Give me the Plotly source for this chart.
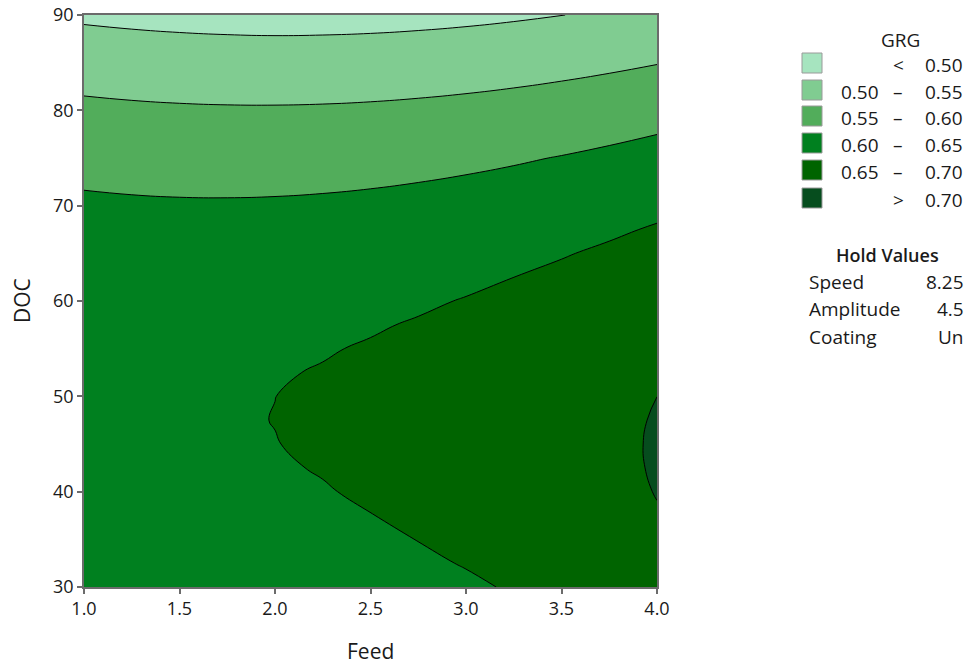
import plotly.graph_objects as go

# Predictor grid
feed = [1.0, 1.25, 1.5, 1.75, 2.0, 2.25, 2.5, 2.75, 3.0, 3.25, 3.5, 3.75, 4.0]
doc = [30, 32.5, 35, 37.5, 40, 42.5, 45, 47.5, 50, 52.5, 55, 57.5, 60,
       62.5, 65, 67.5, 70, 75, 80, 85, 90]

# Fitted GRG along DOC, one list per Feed setting (Speed 8.25, Amplitude 4.5, Coating Un)
grg_feed_1_00 = [0.60997, 0.61857, 0.62601, 0.63227, 0.63736, 0.64127, 0.64402,
                 0.64559, 0.64599, 0.64521, 0.64326, 0.64015, 0.63585, 0.63039,
                 0.62375, 0.61595, 0.60696, 0.58548, 0.55931, 0.52845, 0.49290]
grg_feed_1_25 = [0.61124, 0.61964, 0.62688, 0.63294, 0.63782, 0.64154, 0.64408,
                 0.64545, 0.64565, 0.64467, 0.64252, 0.63920, 0.63471, 0.62904,
                 0.62221, 0.61419, 0.60501, 0.58313, 0.55655, 0.52529, 0.48934]
grg_feed_1_50 = [0.61340, 0.62160, 0.62863, 0.63449, 0.63918, 0.64269, 0.64503,
                 0.64620, 0.64619, 0.64501, 0.64266, 0.63914, 0.63445, 0.62858,
                 0.62154, 0.61333, 0.60394, 0.58166, 0.55468, 0.52301, 0.48666]
grg_feed_1_75 = [0.61643, 0.62443, 0.63126, 0.63692, 0.64140, 0.64471, 0.64685,
                 0.64782, 0.64761, 0.64623, 0.64368, 0.63996, 0.63506, 0.62899,
                 0.62175, 0.61334, 0.60375, 0.58106, 0.55368, 0.52161, 0.48485]
grg_feed_2_00 = [0.62034, 0.62814, 0.63477, 0.64022, 0.64451, 0.64762, 0.64955,
                 0.65032, 0.64991, 0.64833, 0.64558, 0.64165, 0.63655, 0.63028,
                 0.62284, 0.61422, 0.60443, 0.58134, 0.55356, 0.52108, 0.48392]
grg_feed_2_25 = [0.62514, 0.63274, 0.63916, 0.64441, 0.64849, 0.65140, 0.65314,
                 0.65370, 0.65309, 0.65131, 0.64835, 0.64423, 0.63893, 0.63245,
                 0.62481, 0.61599, 0.60600, 0.58251, 0.55432, 0.52144, 0.48447]
grg_feed_2_50 = [0.63081, 0.63820, 0.64443, 0.64948, 0.65336, 0.65606, 0.65760,
                 0.65796, 0.65715, 0.65516, 0.65201, 0.64768, 0.64218, 0.63550,
                 0.62766, 0.61864, 0.60845, 0.58455, 0.55596, 0.52268, 0.48574]
grg_feed_2_75 = [0.63732, 0.64452, 0.65055, 0.65540, 0.65908, 0.66159, 0.66293,
                 0.66309, 0.66209, 0.65991, 0.65655, 0.65203, 0.64633, 0.63946,
                 0.63141, 0.62220, 0.61181, 0.58752, 0.55853, 0.52486, 0.48798]
grg_feed_3_00 = [0.64475, 0.65175, 0.65758, 0.66223, 0.66571, 0.66802, 0.66915,
                 0.66911, 0.66790, 0.66552, 0.66197, 0.65724, 0.65134, 0.64427,
                 0.63602, 0.62660, 0.61601, 0.59132, 0.56193, 0.52785, 0.49101]
grg_feed_3_25 = [0.65306, 0.65986, 0.66548, 0.66993, 0.67321, 0.67532, 0.67625,
                 0.67601, 0.67460, 0.67201, 0.66826, 0.66333, 0.65723, 0.64995,
                 0.64151, 0.63189, 0.62109, 0.59599, 0.56620, 0.53172, 0.49492]
grg_feed_3_50 = [0.66225, 0.66885, 0.67427, 0.67852, 0.68160, 0.68350, 0.68423,
                 0.68379, 0.68218, 0.67939, 0.67543, 0.67030, 0.66400, 0.65652,
                 0.64787, 0.63805, 0.62706, 0.60156, 0.57136, 0.53648, 0.49960]
grg_feed_3_75 = [0.67232, 0.67871, 0.68393, 0.68798, 0.69086, 0.69256, 0.69309,
                 0.69245, 0.69063, 0.68764, 0.68348, 0.67815, 0.67165, 0.66397,
                 0.65512, 0.64510, 0.63390, 0.60799, 0.57740, 0.54211, 0.50480]
grg_feed_4_00 = [0.68326, 0.68946, 0.69447, 0.69832, 0.70099, 0.70249, 0.70282,
                 0.70198, 0.69996, 0.69677, 0.69241, 0.68688, 0.68017, 0.67229,
                 0.66324, 0.65301, 0.64162, 0.61531, 0.58431, 0.54862, 0.51000]

# Contour levels and legend text
levels = [0.50, 0.55, 0.60, 0.65, 0.70]
band_left = ["", "0.50", "0.55", "0.60", "0.65", ""]
band_mid = ["<", "\u2013", "\u2013", "\u2013", "\u2013", ">"]
band_right = ["0.50", "0.55", "0.60", "0.65", "0.70", "0.70"]
band_colors = ["#a6e4bf", "#80cc91", "#52ad5b", "#00801f", "#006400", "#064d1e"]

hold_names = ["Speed", "Amplitude", "Coating"]
hold_values = ["8.25", "4.5", "Un"]

x_ticks = [1.0, 1.5, 2.0, 2.5, 3.0, 3.5, 4.0]
y_ticks = [30, 40, 50, 60, 70, 80, 90]

columns = [grg_feed_1_00, grg_feed_1_25, grg_feed_1_50, grg_feed_1_75,
           grg_feed_2_00, grg_feed_2_25, grg_feed_2_50, grg_feed_2_75,
           grg_feed_3_00, grg_feed_3_25, grg_feed_3_50, grg_feed_3_75,
           grg_feed_4_00]
z = [[col[i] for col in columns] for i in range(len(doc))]

W, H = 969, 667
L, R, T, B = 84, 657, 15, 587
FONT = "Open Sans"
TXT = "#1a1a1a"


def px(xp):
    return (xp - L) / (R - L)


def py(yp):
    return (B - yp) / (B - T)


n = len(band_colors)
scale = []
for i, c in enumerate(band_colors):
    scale.append([i / n, c])
    scale.append([(i + 1) / n, c])

fig = go.Figure(go.Contour(
    x=feed, y=doc, z=z,
    autocontour=False,
    contours=dict(start=levels[0], end=levels[-1], size=0.05,
                  coloring="fill", showlines=True),
    colorscale=scale,
    line=dict(color="black", width=1, smoothing=1.3),
    showscale=False,
    hoverinfo="skip",
))

axis_common = dict(showgrid=False, zeroline=False, showline=True, mirror=True,
                   linecolor="#6b6b6b", linewidth=1.5, ticks="outside",
                   ticklen=5, tickwidth=1.5, tickcolor="#6b6b6b", automargin=False,
                   tickfont=dict(family=FONT, size=18, color=TXT))

fig.update_xaxes(range=[1, 4], tickvals=x_ticks, tickformat=".1f", **axis_common)
fig.update_yaxes(range=[30, 90], tickvals=y_ticks, **axis_common)

ann = []
shapes = []
# axis titles
ann.append(dict(x=px((L + R) / 2), y=py(651), xref="paper", yref="paper",
                text="Feed", showarrow=False, font=dict(family=FONT, size=21, color=TXT),
                xanchor="center", yanchor="middle"))
ann.append(dict(x=px(22), y=py(301), xref="paper", yref="paper", textangle=-90,
                text="DOC", showarrow=False, font=dict(family=FONT, size=21, color=TXT),
                xanchor="center", yanchor="middle"))

# legend of contour bands
lf = dict(family=FONT, size=19, color=TXT)
ann.append(dict(x=px(900), y=py(40), xref="paper", yref="paper", text="GRG",
                showarrow=False, font=lf, xanchor="center", yanchor="middle"))
row_y = [65, 92, 118, 145, 172, 200]
for i in range(n):
    yc = row_y[i]
    shapes.append(dict(type="rect", xref="paper", yref="paper",
                       x0=px(802), x1=px(822), y0=py(yc - 12), y1=py(yc + 8),
                       fillcolor=band_colors[i], line=dict(color="#9a9a9a", width=1)))
    if band_left[i]:
        ann.append(dict(x=px(881), y=py(yc), xref="paper", yref="paper",
                        text=band_left[i], showarrow=False, font=lf,
                        xanchor="right", yanchor="middle"))
    ann.append(dict(x=px(898), y=py(yc), xref="paper", yref="paper",
                    text=band_mid[i], showarrow=False, font=lf,
                    xanchor="center", yanchor="middle"))
    ann.append(dict(x=px(965), y=py(yc), xref="paper", yref="paper",
                    text=band_right[i], showarrow=False, font=lf,
                    xanchor="right", yanchor="middle"))

# hold values block
ann.append(dict(x=px(887), y=py(255), xref="paper", yref="paper",
                text="Hold Values", showarrow=False,
                font=dict(family=FONT, size=18, color=TXT, weight=600),
                xanchor="center", yanchor="middle"))
for i, (nm, vl) in enumerate(zip(hold_names, hold_values)):
    yc = 282 + 27.5 * i
    ann.append(dict(x=px(807), y=py(yc), xref="paper", yref="paper", text=nm,
                    showarrow=False, font=lf, xanchor="left", yanchor="middle"))
    ann.append(dict(x=px(966), y=py(yc), xref="paper", yref="paper", text=vl,
                    showarrow=False, font=lf, xanchor="right", yanchor="middle"))

fig.update_layout(
    width=W, height=H,
    margin=dict(l=L, r=W - R, t=T, b=H - B, pad=0),
    paper_bgcolor="white", plot_bgcolor="white",
    annotations=ann, shapes=shapes, showlegend=False,
    font=dict(family=FONT, color=TXT),
)

fig.write_html("out.html")
